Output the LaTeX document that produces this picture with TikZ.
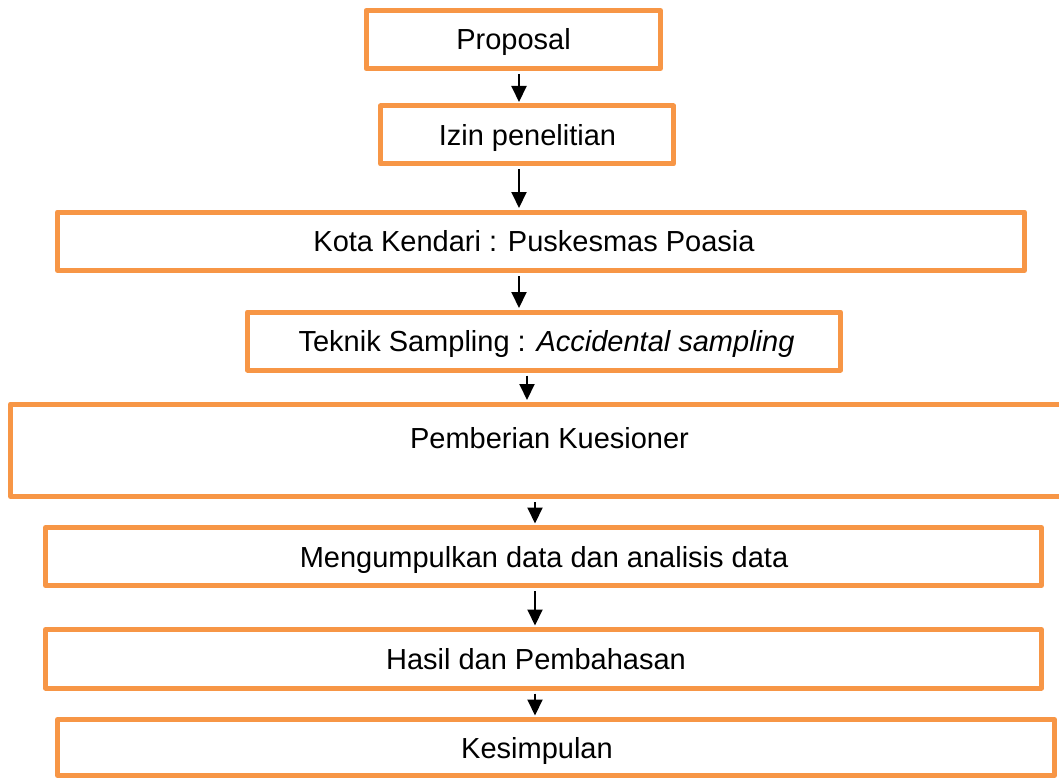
\documentclass[tikz,border=0pt]{standalone}
\usepackage{fontspec}
\setmainfont{Liberation Sans}
\usetikzlibrary{arrows.meta}
\definecolor{boxorange}{HTML}{F79646}
\tikzset{
  procbox/.style={draw=boxorange, line width=5pt, line join=round, rectangle, inner sep=0pt, fill=white},
  lbl/.style={anchor=base, inner sep=0pt, font=\fontsize{29}{35}\selectfont},
  arr/.style={draw=black, line width=2pt, -{Triangle[width=15pt,length=16pt]}, shorten <=3pt, shorten >=1.5pt}
}
\begin{document}
\begin{tikzpicture}[x=1pt,y=-1pt]
\useasboundingbox (0,0) rectangle (1059,778);
\clip (0,0) rectangle (1059,778);
\node[procbox, minimum width=294.5pt, minimum height=58pt] (b1) at (513.25,39.5) {};
\node[procbox, minimum width=293pt, minimum height=58pt] (b2) at (527,135) {};
\node[procbox, minimum width=967pt, minimum height=58.5pt] (b3) at (541,241.25) {};
\node[procbox, minimum width=593pt, minimum height=58pt] (b4) at (544,341) {};
\node[procbox, minimum width=1069.5pt, minimum height=92.5pt] (b5) at (545.25,450.25) {};
\node[procbox, minimum width=996pt, minimum height=58pt] (b6) at (543.5,556.5) {};
\node[procbox, minimum width=996pt, minimum height=58.5pt] (b7) at (543.5,658.75) {};
\node[procbox, minimum width=997pt, minimum height=56pt] (b8) at (556,747.5) {};

\node[lbl] (t1) at (513.5,50) {Proposal};
\node[lbl] (t2) at (527.5,146) {Izin penelitian};
\node[lbl] (t3) at (534,251.5) {Kota Kendari : Puskesmas Poasia};
\node[lbl] (t4) at (546.5,351) {Teknik Sampling : \textit{Accidental sampling}};
\node[lbl] (t5) at (549.5,448) {Pemberian Kuesioner};
\node[lbl] (t6) at (544,567.5) {Mengumpulkan data dan analisis data};
\node[lbl] (t7) at (536,669.5) {Hasil dan Pembahasan};
\node[lbl] (t8) at (537,758) {Kesimpulan};

\draw[arr] (519,0 |- b1.south) -- (519,0 |- b2.north);
\draw[arr] (519,0 |- b2.south) -- (519,0 |- b3.north);
\draw[arr] (519,0 |- b3.south) -- (519,0 |- b4.north);
\draw[arr] (527,0 |- b4.south) -- (527,0 |- b5.north);
\draw[arr] (535,0 |- b5.south) -- (535,0 |- b6.north);
\draw[arr] (535,0 |- b6.south) -- (535,0 |- b7.north);
\draw[arr] (535,0 |- b7.south) -- (535,0 |- b8.north);
\end{tikzpicture}
\end{document}
